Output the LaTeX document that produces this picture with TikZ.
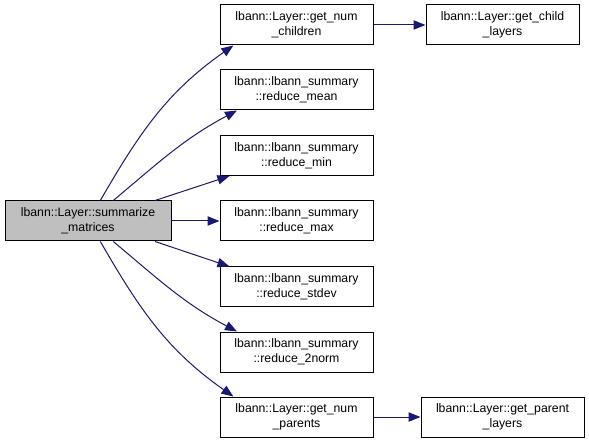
\documentclass[tikz,border=0pt]{standalone}
\usepackage{fontspec}
\setmainfont{Liberation Sans}
\usetikzlibrary{arrows.meta}
\definecolor{edgeblue}{HTML}{191970}
\definecolor{curfill}{HTML}{BFBFBF}
\tikzset{
  fn/.style={draw=black,line width=0.75pt,align=center,inner sep=0pt,
    minimum height=30pt,minimum width=114.75pt,
    font=\fontsize{9.2}{11.3}\selectfont},
  call/.style={draw=edgeblue,line width=0.75pt,-{Triangle[length=9pt,width=7pt]}},
}
\begin{document}
\begin{tikzpicture}[x=0.75pt,y=0.75pt]
\useasboundingbox (0,0) rectangle (589,443);
% caller
\node[fn,fill=curfill,minimum width=124.5pt] (summ) at (88,222) {lbann::Layer::summarize\\\_matrices};
% callees
\node[fn] (kids)    at (296.5,418) {lbann::Layer::get\_num\\\_children};
\node[fn] (mean)    at (296.5,353) {lbann::lbann\_summary\\::reduce\_mean};
\node[fn] (min)     at (296.5,287.5) {lbann::lbann\_summary\\::reduce\_min};
\node[fn] (max)     at (296.5,222) {lbann::lbann\_summary\\::reduce\_max};
\node[fn] (stdev)   at (296.5,156) {lbann::lbann\_summary\\::reduce\_stdev};
\node[fn] (norm)    at (296.5,91) {lbann::lbann\_summary\\::reduce\_2norm};
\node[fn] (parents) at (296.5,26) {lbann::Layer::get\_num\\\_parents};
\node[fn] (childl)  at (502.5,418) {lbann::Layer::get\_child\\\_layers};
\node[fn,minimum width=122.25pt] (parentl) at (502.5,26) {lbann::Layer::get\_parent\\\_layers};
% calls
\draw[call] (summ.59) to[out=60,in=215] (kids.198);
\draw[call] (summ.39) to[out=40,in=208] (mean.199);
\draw[call] (summ.17) -- (min.197);
\draw[call] (summ.east) -- (max.west);
\draw[call] (summ.-17) -- (stdev.163);
\draw[call] (summ.-39) to[out=-40,in=152] (norm.161);
\draw[call] (summ.-59) to[out=-60,in=145] (parents.162);
\draw[call] (kids) -- (childl);
\draw[call] (parents) -- (parentl);
\end{tikzpicture}
\end{document}
